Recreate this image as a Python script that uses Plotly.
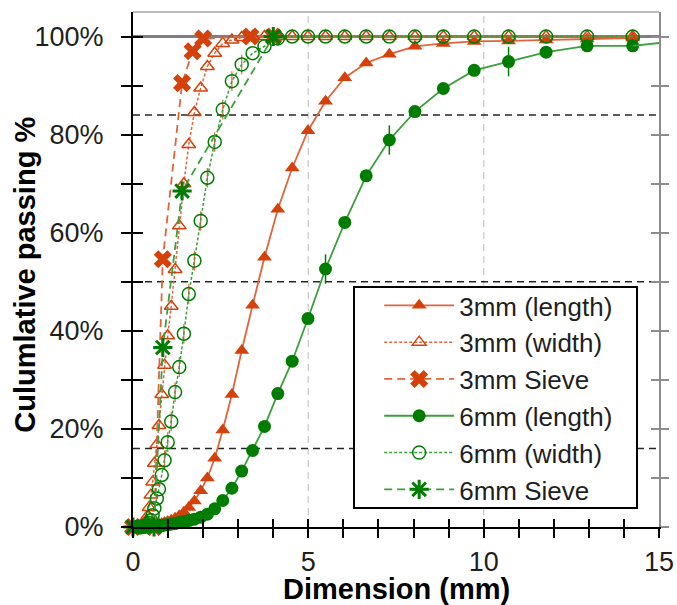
import plotly.graph_objects as go

# ---------------- data ----------------
bins_mm = [0.13, 0.15, 0.16, 0.18, 0.20, 0.22, 0.24, 0.26, 0.29, 0.32,
           0.35, 0.38, 0.42, 0.46, 0.51, 0.56, 0.61, 0.68, 0.74, 0.82,
           0.90, 0.99, 1.09, 1.20, 1.32, 1.45, 1.59, 1.75, 1.93, 2.12,
           2.33, 2.56, 2.82, 3.10, 3.41, 3.75, 4.13, 4.54, 4.99, 5.49,
           6.04, 6.65, 7.31, 8.04, 8.85, 9.73, 10.71, 11.78, 12.95, 14.25]

len3_pct = [0, 0, 0, 0, 0, 0, 0, 0, 0, 0.1,
            0.1, 0.1, 0.2, 0.2, 0.3, 0.3, 0.4, 0.5, 0.6, 0.7,
            0.9, 1.1, 1.4, 1.8, 2.3, 3.0, 4.0, 5.3, 7.4, 10.0,
            14.0, 19.8, 27.0, 36.0, 45.2, 55.0, 64.8, 73.2, 80.8, 86.8,
            91.6, 94.6, 96.4, 98.0, 98.6, 99.0, 99.1, 99.3, 99.5, 99.7]

wid3_pct = [0, 0, 0, 0, 0.1, 0.1, 0.2, 0.3, 0.4, 0.6,
            0.9, 1.3, 2.3, 4.0, 6.5, 9.2, 13.0, 16.8, 20.7, 27.0,
            33.0, 39.0, 45.0, 52.5, 61.4, 70.0, 78.0, 84.5, 89.5, 93.9,
            96.6, 98.6, 99.3, 99.8, 100, 100, 100, 100, 100, 100,
            100, 100, 100, 100, 100, 100, 100, 100, 100, 100]

len6_pct = [0, 0, 0, 0, 0, 0, 0, 0, 0, 0,
            0, 0.1, 0.1, 0.1, 0.1, 0.2, 0.2, 0.2, 0.3, 0.3,
            0.4, 0.5, 0.6, 0.7, 0.9, 1.1, 1.3, 1.6, 2.0, 2.6,
            3.7, 5.4, 7.9, 11.4, 15.6, 20.5, 27.2, 33.8, 42.5, 52.6,
            62.1, 71.6, 78.9, 84.7, 89.4, 93.1, 94.9, 96.8, 98.1, 98.1]
# spread bars visible on a few 6mm (length) points
len6_err = [0, 0, 0, 0, 0, 0, 0, 0, 0, 0,
            0, 0, 0, 0, 0, 0, 0, 0, 0, 0,
            0, 0, 0, 0, 0, 0, 0, 0, 0, 0,
            0, 0, 0, 0, 0, 0, 0, 0, 0, 3.0,
            0, 0, 3.0, 0, 0, 0, 3.0, 0, 0, 0]
# the 6mm (length) line continues past the right edge of the axis
len6_tail_mm = [14.25, 15.68]
len6_tail_pct = [98.1, 99.2]

wid6_pct = [0, 0, 0, 0, 0, 0, 0, 0, 0.1, 0.1,
            0.2, 0.3, 0.5, 0.8, 1.4, 2.4, 3.8, 5.8, 7.7, 10.6,
            13.6, 17.3, 21.5, 27.5, 32.6, 39.4, 47.5, 54.3, 62.4, 71.2,
            78.5, 85.1, 90.9, 94.3, 96.6, 98.0, 99.6, 100, 100, 100,
            100, 100, 100, 100, 100, 100, 100, 100, 100, 100]
# short red spread bars seen through the 6mm (width) circles
wid6_err = [0, 0, 0, 0, 0, 0, 0, 0, 0, 0,
            0, 0, 0, 0, 0, 0, 0, 0, 0, 0,
            2.0, 2.0, 2.0, 2.0, 2.0, 2.0, 2.0, 2.0, 2.0, 2.0,
            2.0, 2.0, 2.0, 2.0, 0, 0, 0, 0, 0, 0,
            0, 0, 0, 0, 0, 0, 0, 0, 0, 0]

sieve3_mm = [0, 0.6, 0.85, 1.4, 1.7, 2.0, 3.35, 4.0]
sieve3_pct = [0, 0, 54.6, 90.5, 97.0, 99.6, 100, 100]
sieve6_mm = [0, 0.6, 0.85, 1.4, 4.0]
sieve6_pct = [0, 0, 36.6, 68.5, 100]

ref_levels = [16, 50, 84]       # dashed horizontal reference lines
grid_x = [5, 10]                # light dashed vertical gridlines
full_level = 100

x_ticks = list(range(0, 16))
x_labels = [str(v) if v % 5 == 0 else "" for v in x_ticks]
y_ticks = list(range(0, 101, 10))
y_labels = [f"{v}%" if v % 20 == 0 else "" for v in y_ticks]

# ---------------- styling ----------------
RED = "#D4410A"
RED_LINE = "#E0643C"
GREEN = "#007D00"
GREEN_LINE = "#3C9E3C"
FONT = "Liberation Sans"
TXT = "#1F1F1F"

fig = go.Figure()

fig.add_trace(go.Scatter(
    x=bins_mm, y=len3_pct, name="3mm (length)", mode="lines+markers",
    line=dict(color=RED_LINE, width=1.8),
    marker=dict(symbol="triangle-up", size=13, color=RED, line=dict(width=0)),
    cliponaxis=False))
fig.add_trace(go.Scatter(
    x=bins_mm, y=wid3_pct, name="3mm (width)", mode="lines+markers",
    line=dict(color=RED_LINE, width=1.5, dash="3px,2px"),
    marker=dict(symbol="triangle-up-open", size=12, color=RED, line=dict(width=1.5, color=RED)),
    cliponaxis=False))
fig.add_trace(go.Scatter(
    x=sieve3_mm, y=sieve3_pct, name="3mm Sieve", mode="lines+markers",
    line=dict(color=RED_LINE, width=1.8, dash="8px,5px"),
    marker=dict(symbol="x", size=16, color=RED, line=dict(width=0)),
    cliponaxis=False))
fig.add_trace(go.Scatter(
    x=bins_mm, y=len6_pct, name="6mm (length)", mode="lines+markers",
    line=dict(color=GREEN_LINE, width=1.8),
    marker=dict(symbol="circle", size=13, color=GREEN, line=dict(width=0)),
    error_y=dict(type="data", array=len6_err, visible=True, color=GREEN,
                 thickness=1.5, width=0),
    cliponaxis=False))
fig.add_trace(go.Scatter(
    x=len6_tail_mm, y=len6_tail_pct, mode="lines", showlegend=False,
    line=dict(color=GREEN_LINE, width=1.8), hoverinfo="skip"))
fig.add_trace(go.Scatter(
    x=bins_mm, y=wid6_pct, name="6mm (width)", mode="lines+markers",
    line=dict(color=GREEN_LINE, width=1.5, dash="3px,2px"),
    marker=dict(symbol="circle-open", size=13, color=GREEN, line=dict(width=1.5, color=GREEN)),
    error_y=dict(type="data", array=wid6_err, visible=True, color=RED_LINE,
                 thickness=1.2, width=0),
    cliponaxis=False))
fig.add_trace(go.Scatter(
    x=sieve6_mm, y=sieve6_pct, name="6mm Sieve", mode="lines+markers",
    line=dict(color=GREEN_LINE, width=1.8, dash="8px,5px"),
    marker=dict(symbol="asterisk-open", size=16, color=GREEN, line=dict(width=3, color=GREEN)),
    cliponaxis=False))

# dummy traces so the overlay axes (used for crossing tick marks) are drawn
for xa, ya in [("x2", "y"), ("x", "y2"), ("x", "y3"), ("x", "y4")]:
    fig.add_trace(go.Scatter(x=[None], y=[None], xaxis=xa, yaxis=ya,
                             showlegend=False, hoverinfo="skip"))

tickfont = dict(family=FONT, size=27, color=TXT)

fig.update_layout(
    width=677, height=605,
    margin=dict(l=133, r=18, t=12, b=78, autoexpand=False),
    paper_bgcolor="white", plot_bgcolor="white",
    showlegend=True,
    xaxis=dict(range=[0, 15], tickmode="array", tickvals=x_ticks, ticktext=x_labels,
               ticks="outside", ticklen=9, tickwidth=1.5, tickcolor="#000",
               showline=True, linecolor="#000", linewidth=2,
               showgrid=False, zeroline=False, tickfont=tickfont,
               ticklabelstandoff=1, automargin=False),
    xaxis2=dict(range=[0, 15], overlaying="x", anchor="y", side="bottom",
                tickmode="array", tickvals=x_ticks, ticks="inside", ticklen=8,
                tickwidth=1.5, tickcolor="#000", showticklabels=False,
                showline=False, showgrid=False, zeroline=False, automargin=False),
    yaxis=dict(range=[0, 105], tickmode="array", tickvals=y_ticks, ticktext=y_labels,
               ticks="outside", ticklen=10, tickwidth=1.5, tickcolor="#000",
               showline=True, linecolor="#000", linewidth=2,
               showgrid=False, zeroline=False, tickfont=tickfont,
               ticklabelstandoff=12, automargin=False),
    yaxis2=dict(range=[0, 105], overlaying="y", anchor="x", side="left",
                tickmode="array", tickvals=y_ticks, ticks="inside", ticklen=10,
                tickwidth=1.5, tickcolor="#000", showticklabels=False,
                showline=False, showgrid=False, zeroline=False, automargin=False),
    yaxis3=dict(range=[0, 105], overlaying="y", anchor="x", side="right",
                tickmode="array", tickvals=y_ticks, ticks="outside", ticklen=8,
                tickwidth=1.5, tickcolor="#8C8C8C", showticklabels=False,
                showline=True, linecolor="#8C8C8C", linewidth=2,
                showgrid=False, zeroline=False, automargin=False),
    yaxis4=dict(range=[0, 105], overlaying="y", anchor="x", side="right",
                tickmode="array", tickvals=y_ticks, ticks="inside", ticklen=8,
                tickwidth=1.5, tickcolor="#8C8C8C", showticklabels=False,
                showline=False, showgrid=False, zeroline=False, automargin=False),
    legend=dict(x=0.468, y=0.4758, xanchor="left", yanchor="top",
                bgcolor="rgba(0,0,0,0)", borderwidth=0,
                font=dict(family=FONT, size=26, color=TXT),
                itemwidth=70, tracegroupgap=0),
)

shapes = []
for gx in grid_x:
    shapes.append(dict(type="line", xref="x", yref="paper", x0=gx, x1=gx, y0=0, y1=1,
                       line=dict(color="#D0D0D0", width=1.5, dash="7px,5px"), layer="below"))
for lv in ref_levels:
    shapes.append(dict(type="line", xref="paper", yref="y", x0=0, x1=1, y0=lv, y1=lv,
                       line=dict(color="#262626", width=1.5, dash="7px,5px"), layer="below"))
shapes.append(dict(type="line", xref="paper", yref="y", x0=0, x1=1, y0=full_level, y1=full_level,
                   line=dict(color="#7F7F7F", width=3), layer="below"))
shapes.append(dict(type="line", xref="paper", yref="paper", x0=0, x1=1, y0=1, y1=1,
                   line=dict(color="#A6A6A6", width=1.5), layer="below"))
# legend frame (white box with black border)
shapes.append(dict(type="rect", xref="paper", yref="paper",
                   x0=(354 - 133) / 526, x1=(637 - 133) / 526,
                   y0=(527 - 508) / 515, y1=(527 - 287) / 515,
                   fillcolor="white", line=dict(color="#000", width=2), layer="above"))
fig.update_layout(shapes=shapes)

fig.add_annotation(text="<b>Dimension (mm)</b>", xref="paper", yref="paper",
                   x=0.5, y=-0.121, xanchor="center", yanchor="middle", showarrow=False,
                   font=dict(family=FONT, size=29, color="#000"))
fig.add_annotation(text="<b>Culumlative passing %</b>", xref="paper", yref="paper",
                   x=-0.2053, y=0.49, xanchor="center", yanchor="middle", showarrow=False,
                   textangle=-90, font=dict(family=FONT, size=29, color="#000"))

fig.write_html("out.html")
